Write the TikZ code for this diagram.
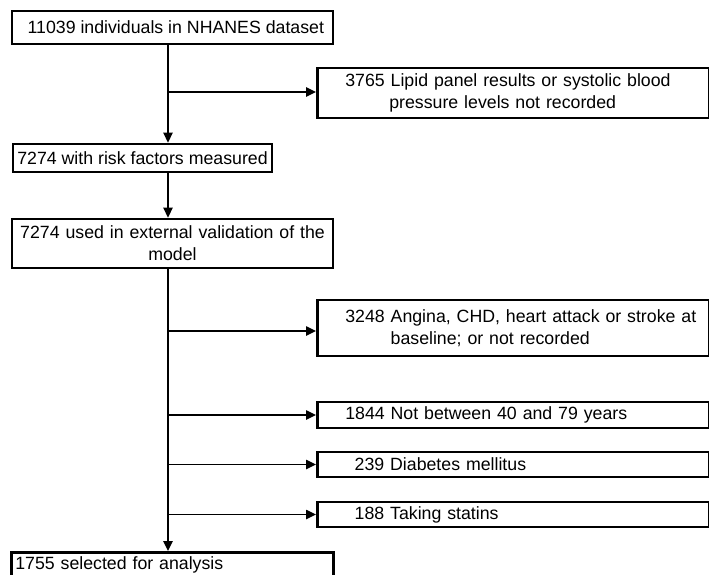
\documentclass[tikz,border=0pt]{standalone}
\usepackage{fontspec}
\setmainfont{Liberation Sans}
\usetikzlibrary{arrows.meta,positioning}

\begin{document}
\begin{tikzpicture}[x=0.75pt, y=-0.75pt, every node/.style={font=\fontsize{13.3}{16.5}\selectfont},
  box/.style={draw, line width=2pt, inner sep=0pt},
  side/.style={box, anchor=west, text width=294pt, align=left},
  arr/.style={line width=1.1pt, -{Triangle[length=7.5pt,width=7pt]}}]
  \useasboundingbox (0,0) rectangle (709,574);
  \clip (0,0) rectangle (709,574);
  % main column
  \node[box, minimum width=240.75pt, minimum height=24.75pt] (all) at (172.5,27.5) {\hspace*{5pt}11039 individuals in NHANES dataset};
  \node[box, minimum width=194.25pt, minimum height=21pt] (risk) at (142.5,158) {7274 with risk factors measured};
  \node[box, text width=240.75pt, minimum height=36.75pt, align=center] (valid) at (172.5,243.5) {7274 used in external validation of the\\model};
  \node[box, anchor=north west, text width=241.5pt, minimum height=37.5pt, inner ysep=3pt, align=left] (sel) at (10,551) {\hspace*{3pt}1755 selected for analysis\\[4pt]\strut};
  % exclusions
  \node[side, minimum height=37.5pt] (lipid) at (316,93) {\hspace*{21pt}3765 Lipid panel results or systolic blood\\\hspace*{54pt}pressure levels not recorded};
  \node[side, minimum height=42pt] (cvd) at (316,328) {\hspace*{21pt}3248 Angina, CHD, heart attack or stroke at\\\hspace*{55pt}baseline; or not recorded};
  \node[side, minimum height=19.5pt] (age) at (316,415) {\hspace*{21pt}1844 Not between 40 and 79 years};
  \node[side, minimum height=18.75pt] (diab) at (316,464.5) {\hspace*{28pt}239 Diabetes mellitus};
  \node[side, minimum height=18.75pt] (stat) at (316,514.5) {\hspace*{28pt}188 Taking statins};
  \coordinate (t) at (168,0);
  \draw[arr] (t |- all.south) -- (t |- risk.north);
  \draw[arr] (t |- risk.south) -- (t |- valid.north);
  \draw[arr] (t |- valid.south) -- (t |- sel.north);
  \draw[arr] (t |- 0,92) -- (lipid.west |- 0,92);
  \draw[arr] (t |- 0,331) -- (cvd.west |- 0,331);
  \draw[arr] (t |- age.west) -- (age.west);
  \draw[arr] (t |- diab.west) -- (diab.west);
  \draw[arr] (t |- stat.west) -- (stat.west);
\end{tikzpicture}
\end{document}
